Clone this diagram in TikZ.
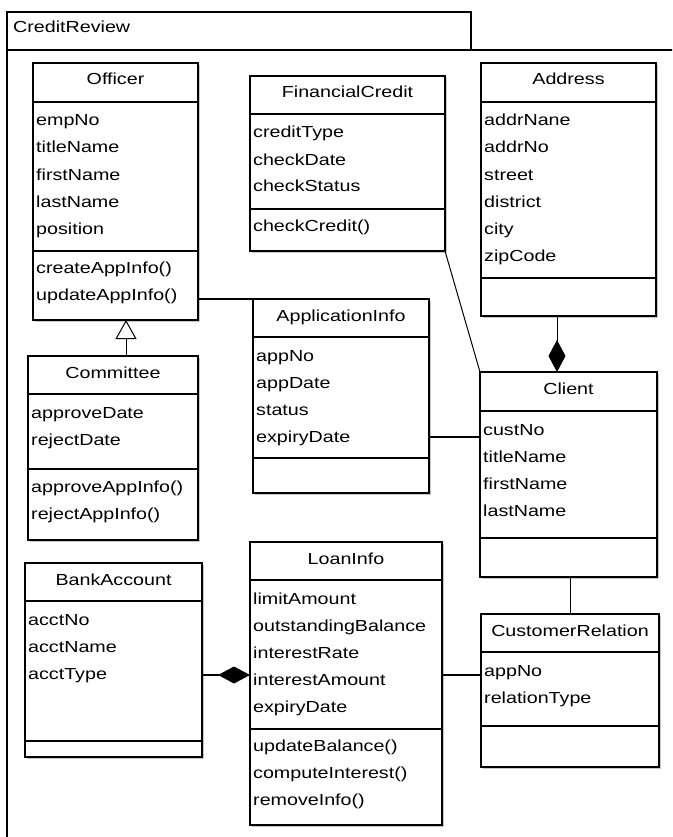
\documentclass[tikz,border=0pt]{standalone}
\usepackage{fontspec}
\setmainfont{Liberation Sans}[FakeStretch=1.23]
\usetikzlibrary{arrows.meta,shadows}

\tikzset{
  classbox/.style={draw, line width=1.6pt, fill=white, inner sep=0pt, outer sep=0pt,
    anchor=north west,
    drop shadow={shadow xshift=2pt, shadow yshift=-2pt, fill=black!22, opacity=1}},
  sepline/.style={line width=1.6pt},
  classtitle/.style={font=\fontsize{16}{19}\selectfont, anchor=base, inner sep=0pt},
  classrow/.style={font=\fontsize{16}{19}\selectfont, anchor=base west, inner sep=0pt},
  assoc/.style={line width=1.4pt},
  thinassoc/.style={line width=1pt},
  comp/.style={-{Diamond[length=32pt,width=17pt]}, line width=1pt},
  gen/.style={-{Triangle[open,length=19pt,width=21pt,fill=white]}, line width=1pt},
  frameline/.style={draw, line width=1.8pt, inner sep=0pt, outer sep=0pt, anchor=north west},
}

% class frame: name, left, top, right, bottom, header line, operations line, title
\newcommand{\umlbox}[8]{%
  \node[classbox, minimum width={#4-#2}, minimum height={#5-#3}] (#1) at (#2,#3) {};
  \node[classtitle] (#1-title) at ({(#2+#4)/2},{#3+22}) {#8};
  \draw[sepline] (#2,#6) -- (#4,#6);
  \draw[sepline] (#2,#7) -- (#4,#7);
}
% compartment rows: name prefix, left, first baseline, entries
\newcommand{\umlrows}[4]{%
  \foreach \txt [count=\k] in {#4} {
    \node[classrow] (#1\k) at ({#2+3},{#3+27*(\k-1)}) {\txt};
  }
}

\begin{document}
\begin{tikzpicture}[x=1pt, y=-1pt]
\useasboundingbox (0,0) rectangle (672,837);
\clip (0,0) rectangle (672,837);

% package frame
\node[frameline, minimum width=464, minimum height=38] (tab) at (7,12) {};
\node[classrow] (tabname) at (13,33) {CreditReview};
\node[frameline, minimum width=720, minimum height=840] (pkg) at (7,50) {};

% classes
\umlbox{officer}{33}{63}{198}{320}{102}{251}{Officer}
\umlrows{officer-a}{33}{126}{empNo,titleName,firstName,lastName,position}
\umlrows{officer-o}{33}{273}{createAppInfo(),updateAppInfo()}

\umlbox{committee}{28}{356}{198}{540}{394}{469}{Committee}
\umlrows{committee-a}{28}{418}{approveDate,rejectDate}
\umlrows{committee-o}{28}{492}{approveAppInfo(),rejectAppInfo()}

\umlbox{fincredit}{250}{76}{445}{251}{114}{209}{FinancialCredit}
\umlrows{fincredit-a}{250}{138}{creditType,checkDate,checkStatus}
\umlrows{fincredit-o}{250}{231}{checkCredit()}

\umlbox{address}{481}{63}{656}{316}{102}{278}{Address}
\umlrows{address-a}{481}{126}{addrNane,addrNo,street,district,city,zipCode}

\umlbox{appinfo}{253}{299}{429}{493}{337}{458}{ApplicationInfo}
\umlrows{appinfo-a}{253}{361}{appNo,appDate,status,expiryDate}

\umlbox{client}{480}{372}{657}{577}{411}{538}{Client}
\umlrows{client-a}{480}{435}{custNo,titleName,firstName,lastName}

\umlbox{bank}{25}{563}{202}{757}{601}{741}{BankAccount}
\umlrows{bank-a}{25}{625}{acctNo,acctName,acctType}

\umlbox{loan}{250}{542}{442}{825}{580}{729}{LoanInfo}
\umlrows{loan-a}{250}{604}{limitAmount,outstandingBalance,interestRate,interestAmount,expiryDate}
\umlrows{loan-o}{250}{751}{updateBalance(),computeInterest(),removeInfo()}

\umlbox{custrel}{481}{614}{659}{767}{652}{726}{CustomerRelation}
\umlrows{custrel-a}{481}{676}{appNo,relationType}

% helper coordinates for connector positions
\coordinate (x126) at (126,0);
\coordinate (x557) at (557,0);
\coordinate (x570) at (570,0);
\coordinate (y437) at (0,437);
\coordinate (y675) at (0,675);

% relationships
\draw[gen] (committee.north -| x126) -- (officer.south -| x126);
\draw[assoc] (officer.east |- appinfo.north) -- (appinfo.north west);
\draw[thinassoc] (fincredit.south east) -- (client.north west);
\draw[comp] (address.south -| x557) -- (client.north -| x557);
\draw[assoc] (appinfo.east |- y437) -- (client.west |- y437);
\draw[thinassoc] (client.south -| x570) -- (custrel.north -| x570);
\draw[comp, line width=1.4pt] (bank.east |- y675) -- (loan.west |- y675);
\draw[assoc] (loan.east |- y675) -- (custrel.west |- y675);
\end{tikzpicture}
\end{document}
